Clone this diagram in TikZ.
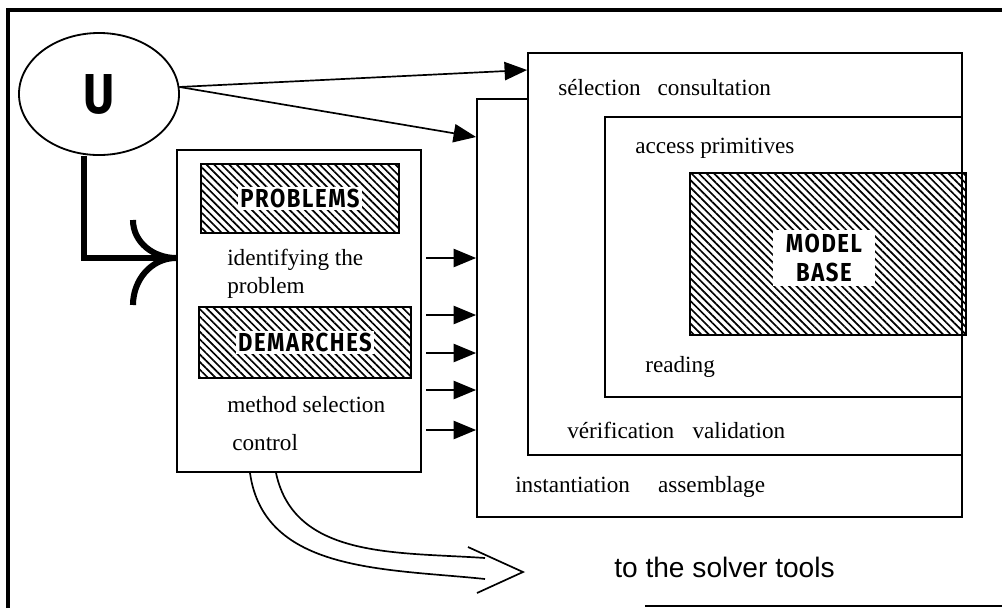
\documentclass[tikz,border=0pt]{standalone}
\usepackage{fontspec}
\setmainfont{Liberation Serif}
\newfontfamily\solverfont{Liberation Sans}
\newfontfamily\tagfont{Fira Sans}[FakeStretch=0.85,LetterSpace=6]
\usetikzlibrary{arrows.meta,patterns.meta,fit,shapes.geometric}

\begin{document}
\begin{tikzpicture}[x=0.025cm,y=-0.025cm,
  box/.style={draw,line width=1.3pt,fill=white,inner sep=0pt},
  hatch/.style={draw,line width=1.3pt,inner sep=0pt,
    pattern={Lines[angle=-45,distance=3.8pt,line width=1.2pt]}},
  tag/.style={fill=white,inner sep=1.5pt,font=\tagfont\bfseries\fontsize{18.5}{21}\selectfont},
  lbl/.style={anchor=base west,inner sep=0pt,font=\fontsize{16.5}{18}\selectfont},
  tri/.style={line width=1.2pt,-{Triangle[length=16pt,width=13pt]}},
  fat/.style={line width=4.3pt}]
  \useasboundingbox (0,0) rectangle (1002,608);
  \draw[line width=2.5pt] (8,608) -- (8,10) -- (1002,10);
  \draw[line width=1pt] (645,606) -- (1002,606);

  \node[box,fit={(477,99)(962,517)}] (inst) {};
  \node[box,fit={(528,53)(962,455)}] (sel) {};
  \node[box,fit={(605,117)(962,397)}] (access) {};
  \node[hatch,fit={(690,173)(966,335)}] (base) {};
  \node[tag,minimum width=72pt,minimum height=40pt,align=center] (basetag) at (824,258) {MODEL\\BASE};

  \node[lbl] (selt) at (558,95) {sélection\hspace{12pt}consultation};
  \node[lbl] (acct) at (635,153) {access primitives};
  \node[lbl] (readt) at (645,372) {reading};
  \node[lbl] (vert) at (567,438) {vérification\hspace{13pt}validation};
  \node[lbl] (instt) at (515,492) {instantiation\hspace{20pt}assemblage};

  \node[draw,ellipse,line width=1.3pt,minimum width=4cm,minimum height=3.05cm,
    font=\tagfont\bfseries\fontsize{40}{40}\selectfont] (user) at (99,94) {U};

  \node[box,fit={(177,150)(421,472)}] (task) {};
  \node[hatch,fit={(201,164)(399,233)}] (prob) {};
  \node[tag] (probtag) at (prob.center) {PROBLEMS};
  \node[hatch,fit={(199,307)(411,378)}] (dem) {};
  \node[tag] (demtag) at (dem.center) {DEMARCHES};
  \node[lbl] (ident) at (227,265) {identifying the};
  \node[lbl] (probl) at (227,293) {problem};
  \node[lbl] (meth) at (227,412) {method selection};
  \node[lbl] (ctrl) at (232,450) {control};

  \draw[tri] (user.5) -- (sel.west |- 0,70);
  \draw[tri] (user.5) -- (inst.west |- 0,137);
  \draw[fat] (user.south -| 84,0) -- (84,258) -- (task.west |- 0,258);
  \draw[fat] (133,220) to[out=-90,in=180] (task.west |- 0,258)
    to[out=180,in=90] (133,305);
  \foreach \y in {258,315,353,390,430}
    \draw[tri,shorten <=3pt] (task.east |- 0,\y) -- (inst.west |- 0,\y);

  \coordinate (tip) at (523,572);
  \draw[line width=1.2pt] (task.south -| 250,0) to[out=-82,in=174] (485,579);
  \draw[line width=1.2pt] (task.south -| 276,0) to[out=-78,in=176] (485,558);
  \draw[line width=1.2pt] (468,547) -- (tip) -- (477,593);
  \node[anchor=base west,inner sep=0pt,font=\solverfont\fontsize{20}{24}\selectfont]
    (solver) at (614,577) {to the solver tools};
\end{tikzpicture}
\end{document}
